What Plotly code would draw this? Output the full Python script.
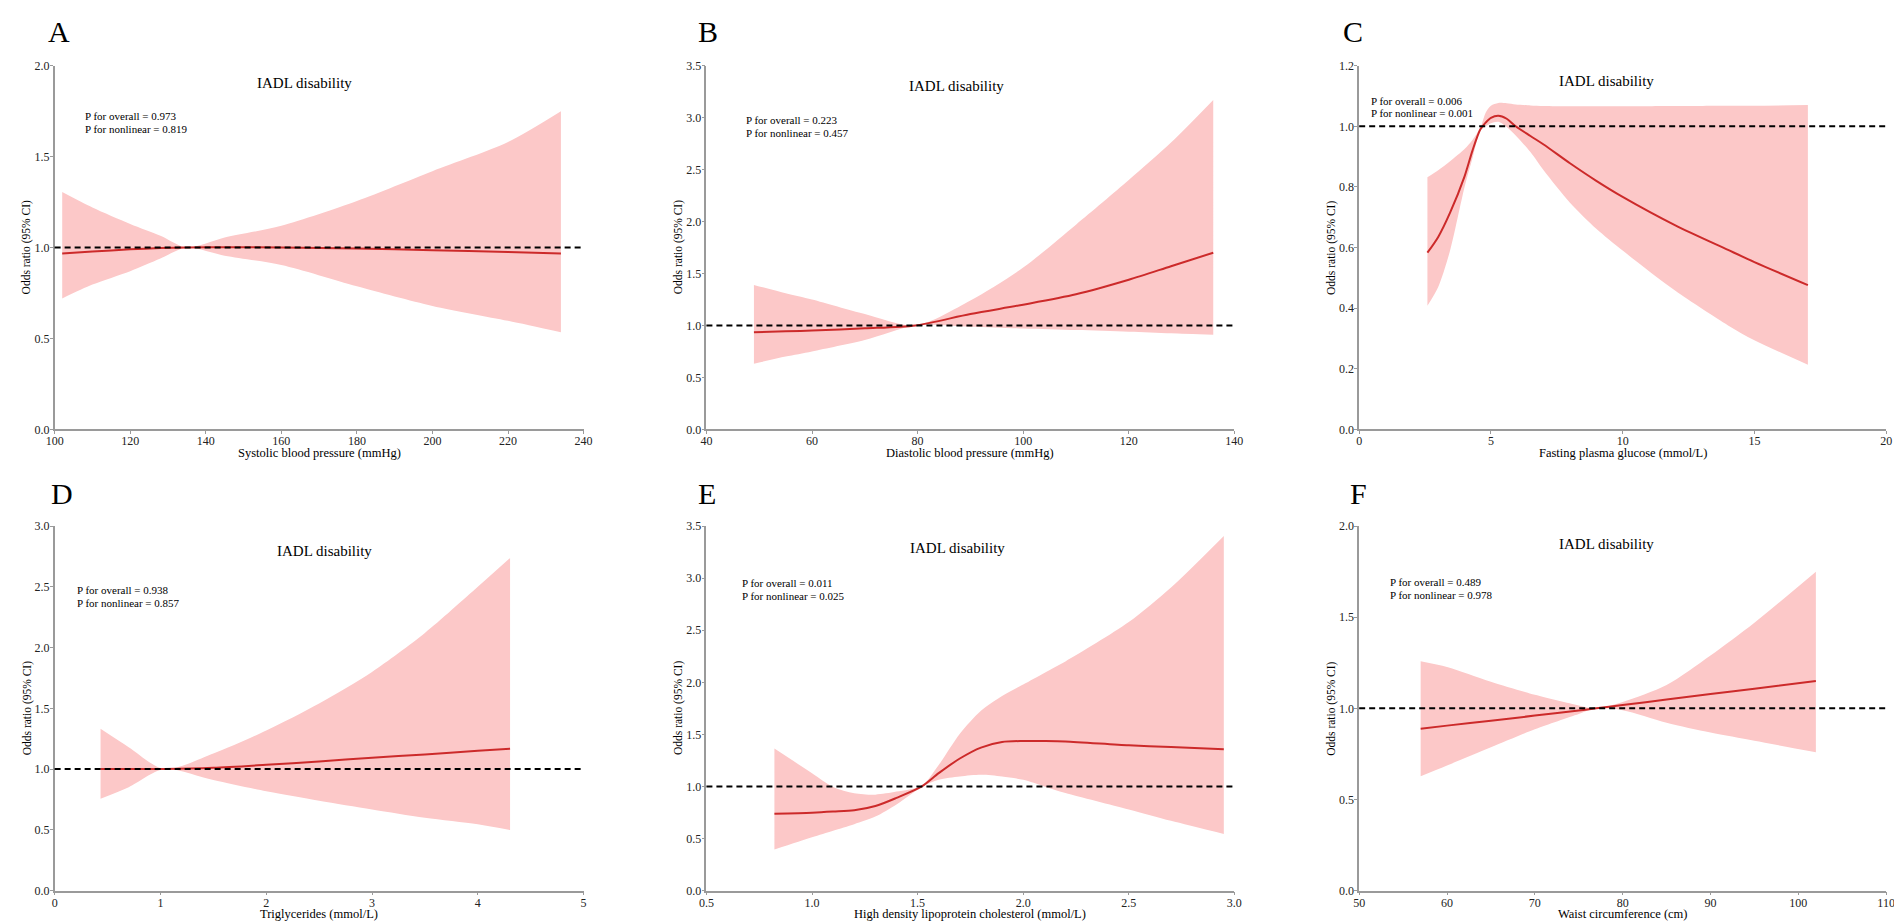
import plotly.graph_objects as go

W, H = 1902, 923
FONT = "Liberation Serif, Times New Roman, serif"
RED = "#CC2A2A"
BAND = "#FCC8C8"
AXIS = "#9a9a9a"

# A  systolic blood pressure
sbp_x = [102, 110, 120, 128, 135, 145, 160, 180, 200, 220, 234]
sbp_or = [0.967, 0.978, 0.990, 0.997, 1.000, 1.002, 1.000, 0.995, 0.985, 0.975, 0.967]
sbp_lo = [0.720, 0.796, 0.870, 0.940, 1.000, 0.955, 0.904, 0.787, 0.679, 0.597, 0.534]
sbp_hi = [1.305, 1.220, 1.130, 1.065, 1.000, 1.055, 1.120, 1.256, 1.420, 1.580, 1.749]
sbp_xticks = [100, 120, 140, 160, 180, 200, 220, 240]
sbp_yticks = [0.0, 0.5, 1.0, 1.5, 2.0]

# B  diastolic blood pressure
dbp_x = [49, 55, 60, 70, 79.6, 90, 100, 110, 120, 128, 136]
dbp_or = [0.935, 0.943, 0.951, 0.972, 1.000, 1.110, 1.200, 1.300, 1.440, 1.570, 1.700]
dbp_lo = [0.632, 0.700, 0.750, 0.860, 1.000, 0.988, 0.970, 0.955, 0.940, 0.925, 0.910]
dbp_hi = [1.390, 1.310, 1.250, 1.110, 1.000, 1.240, 1.557, 1.970, 2.400, 2.760, 3.170]
dbp_xticks = [40, 60, 80, 100, 120, 140]
dbp_yticks = [0.0, 0.5, 1.0, 1.5, 2.0, 2.5, 3.0, 3.5]

# C  fasting plasma glucose
fpg_x = [2.59, 3.0, 3.45, 4.0, 4.3, 4.6, 4.8, 5.0, 5.28, 5.6, 5.94, 6.5, 7.0, 8.0, 9.0, 10, 12, 14, 15, 17.03]
fpg_or = [0.583, 0.635, 0.715, 0.835, 0.920, 0.990, 1.012, 1.028, 1.035, 1.025, 1.000, 0.968, 0.940,
          0.878, 0.820, 0.767, 0.673, 0.592, 0.552, 0.476]
fpg_lo = [0.408, 0.470, 0.590, 0.800, 0.895, 0.985, 1.000, 1.010, 1.015, 0.998, 0.970, 0.915, 0.855,
          0.748, 0.662, 0.590, 0.457, 0.343, 0.294, 0.213]
fpg_hi = [0.832, 0.855, 0.885, 0.925, 0.955, 0.995, 1.045, 1.068, 1.077, 1.076, 1.072, 1.069, 1.067,
          1.066, 1.066, 1.066, 1.067, 1.068, 1.068, 1.070]
fpg_xticks = [0, 5, 10, 15, 20]
fpg_yticks = [0.0, 0.2, 0.4, 0.6, 0.8, 1.0, 1.2]

# D  triglycerides
tg_x = [0.434, 0.7, 1.036, 1.5, 2.0, 2.5, 3.0, 3.5, 4.0, 4.305]
tg_or = [1.000, 1.000, 1.000, 1.010, 1.035, 1.063, 1.093, 1.120, 1.150, 1.168]
tg_lo = [0.755, 0.850, 1.000, 0.910, 0.817, 0.740, 0.668, 0.600, 0.546, 0.498]
tg_hi = [1.331, 1.180, 1.000, 1.128, 1.317, 1.540, 1.800, 2.120, 2.500, 2.737]
tg_xticks = [0, 1, 2, 3, 4, 5]
tg_yticks = [0.0, 0.5, 1.0, 1.5, 2.0, 2.5, 3.0]

# E  HDL cholesterol
hdl_x = [0.822, 1.0, 1.1, 1.2, 1.3, 1.4, 1.52, 1.6, 1.7, 1.8, 1.9, 2.0, 2.1, 2.2, 2.5, 2.7, 2.95]
hdl_or = [0.738, 0.748, 0.758, 0.770, 0.811, 0.890, 1.000, 1.127, 1.268, 1.373, 1.426, 1.436, 1.436,
          1.432, 1.395, 1.378, 1.357]
hdl_lo = [0.394, 0.511, 0.575, 0.637, 0.710, 0.827, 0.995, 1.063, 1.095, 1.111, 1.095, 1.063, 1.000,
          0.937, 0.779, 0.669, 0.543]
hdl_hi = [1.363, 1.127, 0.995, 0.935, 0.921, 0.950, 1.007, 1.205, 1.505, 1.726, 1.868, 1.979, 2.090,
          2.200, 2.578, 2.910, 3.405]
hdl_xticks = [0.5, 1.0, 1.5, 2.0, 2.5, 3.0]
hdl_yticks = [0.0, 0.5, 1.0, 1.5, 2.0, 2.5, 3.0, 3.5]

# F  waist circumference
wc_x = [57, 60, 65, 70, 75, 77, 80, 85, 90, 95, 102]
wc_or = [0.888, 0.905, 0.932, 0.960, 0.988, 1.000, 1.018, 1.048, 1.078, 1.108, 1.150]
wc_lo = [0.627, 0.686, 0.786, 0.885, 0.969, 1.000, 0.990, 0.921, 0.867, 0.822, 0.759]
wc_hi = [1.258, 1.227, 1.146, 1.074, 1.016, 1.000, 1.035, 1.128, 1.290, 1.470, 1.750]
wc_xticks = [50, 60, 70, 80, 90, 100, 110]
wc_yticks = [0.0, 0.5, 1.0, 1.5, 2.0]

# pixel frames of the plot areas
cols = [(38, 572), (696, 1229), (1355, 1887)]
rows = [(51.5, 420.7), (519, 889)]

panels = [
    dict(letter="A", x=sbp_x, y=sbp_or, lo=sbp_lo, hi=sbp_hi, xt=sbp_xticks, yt=sbp_yticks,
         xtitle="Systolic blood pressure (mmHg)", p=("0.973", "0.819"), col=0, row=0,
         let_pos=(29, 17), tit_pos=(290, 69), p_pos=(67, 103), xfmt=""),
    dict(letter="B", x=dbp_x, y=dbp_or, lo=dbp_lo, hi=dbp_hi, xt=dbp_xticks, yt=dbp_yticks,
         xtitle="Diastolic blood pressure (mmHg)", p=("0.223", "0.457"), col=1, row=0,
         let_pos=(685, 17), tit_pos=(948, 72), p_pos=(734, 107), xfmt=""),
    dict(letter="C", x=fpg_x, y=fpg_or, lo=fpg_lo, hi=fpg_hi, xt=fpg_xticks, yt=fpg_yticks,
         xtitle="Fasting plasma glucose (mmol/L)", p=("0.006", "0.001"), col=2, row=0,
         let_pos=(1337, 17), tit_pos=(1605, 67), p_pos=(1365, 87), xfmt=""),
    dict(letter="D", x=tg_x, y=tg_or, lo=tg_lo, hi=tg_hi, xt=tg_xticks, yt=tg_yticks,
         xtitle="Triglycerides (mmol/L)", p=("0.938", "0.857"), col=0, row=1,
         let_pos=(32, 486), tit_pos=(310, 544), p_pos=(59, 584), xfmt=""),
    dict(letter="E", x=hdl_x, y=hdl_or, lo=hdl_lo, hi=hdl_hi, xt=hdl_xticks, yt=hdl_yticks,
         xtitle="High density lipoprotein cholesterol (mmol/L)", p=("0.011", "0.025"), col=1, row=1,
         let_pos=(685, 486), tit_pos=(949, 541), p_pos=(730, 577), xfmt=".1f"),
    dict(letter="F", x=wc_x, y=wc_or, lo=wc_lo, hi=wc_hi, xt=wc_xticks, yt=wc_yticks,
         xtitle="Waist circumference (cm)", p=("0.489", "0.978"), col=2, row=1,
         let_pos=(1344, 486), tit_pos=(1605, 537), p_pos=(1384, 576), xfmt=""),
]


def px(v):
    return v / W


def py(v):
    return 1 - v / H


fig = go.Figure()
annotations = []
axis_common = dict(showline=True, linecolor=AXIS, linewidth=1.5, ticks="outside", ticklen=3,
                   tickwidth=1, tickcolor=AXIS, showgrid=False, zeroline=False,
                   tickfont=dict(family=FONT, size=12, color="#222222"))

for i, p in enumerate(panels, start=1):
    sfx = "" if i == 1 else str(i)
    xa, ya = "x" + sfx, "y" + sfx
    spline = dict(shape="spline", smoothing=0.8)

    fig.add_trace(go.Scatter(x=p["x"], y=p["lo"], xaxis=xa, yaxis=ya, mode="lines",
                             line=dict(width=0, **spline), showlegend=False, hoverinfo="skip"))
    fig.add_trace(go.Scatter(x=p["x"], y=p["hi"], xaxis=xa, yaxis=ya, mode="lines",
                             fill="tonexty", fillcolor=BAND,
                             line=dict(width=0, **spline), showlegend=False, hoverinfo="skip"))
    fig.add_trace(go.Scatter(x=p["x"], y=p["y"], xaxis=xa, yaxis=ya, mode="lines",
                             line=dict(color=RED, width=2, **spline), showlegend=False))

    fig.add_shape(type="line", xref=xa + " domain", yref=ya, x0=0, x1=1, y0=1, y1=1,
                  line=dict(color="black", width=2, dash="6px,4px"))

    c0, c1 = cols[p["col"]]
    r0, r1 = rows[p["row"]]
    fig.update_layout(**{
        "xaxis" + sfx: dict(axis_common, domain=[px(c0), px(c1)], anchor=ya,
                            range=[p["xt"][0], p["xt"][-1]], tickvals=p["xt"],
                            tickformat=p["xfmt"], ticklabelstandoff=-3),
        "yaxis" + sfx: dict(axis_common, domain=[py(r1), py(r0)], anchor=xa,
                            range=[p["yt"][0], p["yt"][-1]], tickvals=p["yt"],
                            tickformat=".1f", ticklabelstandoff=-2),
    })

    lx, ly = p["let_pos"]
    annotations.append(dict(text=p["letter"], x=px(lx), y=py(ly), xref="paper", yref="paper",
                            xanchor="left", yanchor="middle", showarrow=False,
                            font=dict(family=FONT, size=30, color="black")))
    tx, ty = p["tit_pos"]
    annotations.append(dict(text="IADL disability", x=px(tx), y=py(ty), xref="paper", yref="paper",
                            xanchor="center", yanchor="middle", showarrow=False,
                            font=dict(family=FONT, size=15, color="black")))
    qx, qy = p["p_pos"]
    for k, lab in enumerate(["P for overall = ", "P for nonlinear = "]):
        annotations.append(dict(text=lab + p["p"][k], x=px(qx), y=py(qy + 13 * k),
                                xref="paper", yref="paper", xanchor="left", yanchor="middle",
                                showarrow=False, font=dict(family=FONT, size=11, color="black")))
    annotations.append(dict(text=p["xtitle"], x=px((c0 + c1) / 2), y=py(r1 + 24),
                            xref="paper", yref="paper", xanchor="center", yanchor="middle",
                            showarrow=False, font=dict(family=FONT, size=12.5, color="black")))
    annotations.append(dict(text="Odds ratio (95% CI)", x=px(c0 - 28), y=py((r0 + r1) / 2),
                            xref="paper", yref="paper", xanchor="center", yanchor="middle",
                            textangle=-90, showarrow=False,
                            font=dict(family=FONT, size=11.5, color="black")))

fig.update_layout(width=W, height=H, margin=dict(l=0, r=0, t=0, b=0),
                  plot_bgcolor="white", paper_bgcolor="white",
                  annotations=annotations, showlegend=False)

fig.write_html("out.html", config={"displayModeBar": False})
